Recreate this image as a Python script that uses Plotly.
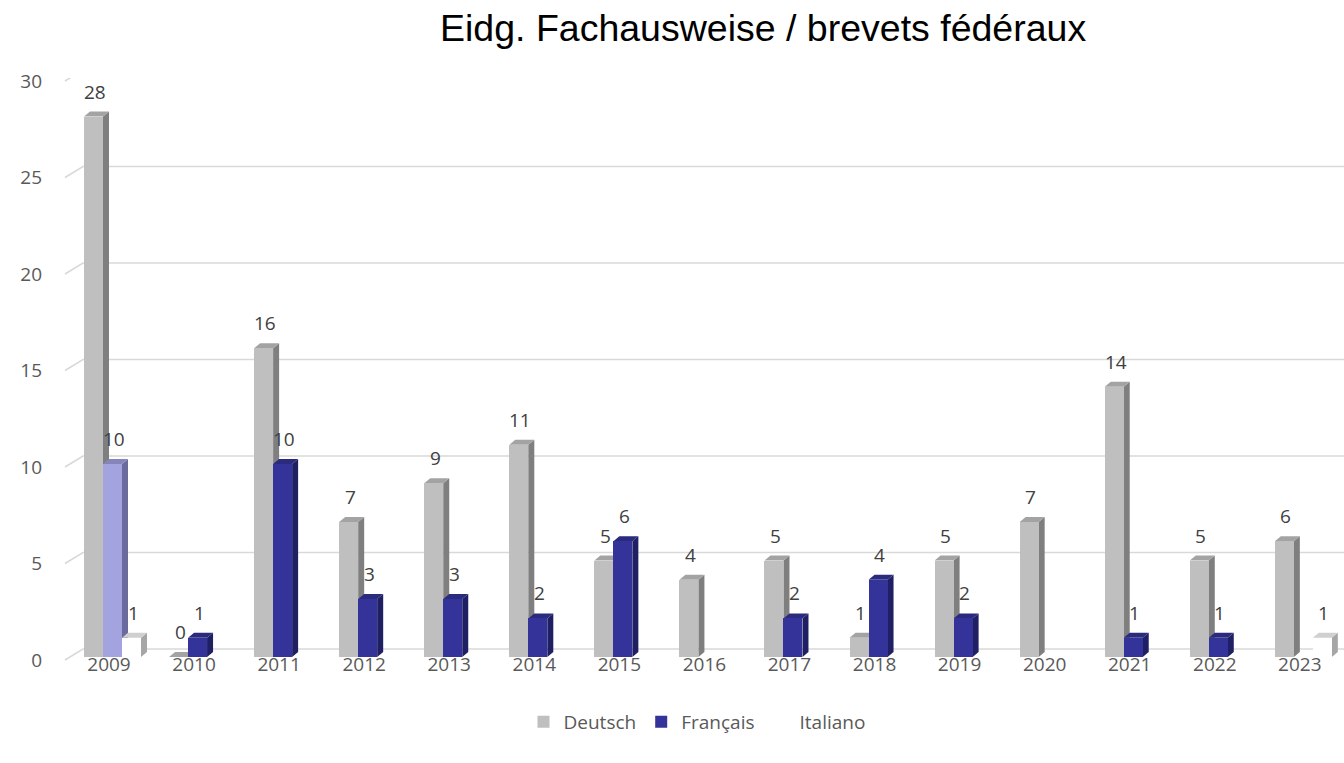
import plotly.graph_objects as go

# ---------------- data ----------------
years = [2009, 2010, 2011, 2012, 2013, 2014, 2015, 2016, 2017, 2018, 2019, 2020, 2021, 2022, 2023]
deutsch = [28, 0, 16, 7, 9, 11, 5, 4, 5, 1, 5, 7, 14, 5, 6]
francais = [10, 1, 10, 3, 3, 2, 6, None, 2, 4, 2, None, 1, 1, None]
italiano = [1, None, None, None, None, None, None, None, None, None, None, None, None, None, 1]
y_ticks = [0, 5, 10, 15, 20, 25, 30]
title_text = "Eidg. Fachausweise / brevets fédéraux"

# ---------------- geometry (pixel based styling) ----------------
W, H = 1344, 763
P = 19.3                        # pixels per value unit (front face)
Y0PIX = 657                     # pixel row of value 0 (front)
MT = 78
YTOP = (Y0PIX - MT) / P         # = 30
BOT_EXTRA = 4                   # px of plot below value 0
MB = H - (Y0PIX + BOT_EXTRA)
PH = H - MT - MB
ML, MR = 63, 0
PW = W - ML - MR
PXC = 85.06                     # pixels per category
X0 = 109                        # pixel of first category centre
UX = 1.0 / PXC
UY = 1.0 / P
xr = [(ML - X0) * UX, (W - MR - X0) * UX]
yr = [-BOT_EXTRA * UY, YTOP]

BW = 19 * UX                    # bar width
DX, DY = 6 * UX, 5 * UY         # 3D depth offsets
FONT = "Open Sans"
FS = 19

series = [
    dict(name="Deutsch", vals=deutsch, off=-25, front="#BFBFBF", side="#7F7F7F", top="#A3A3A3", special={}),
    dict(name="Français", vals=francais, off=-6, front="#333399", side="#1F1F63", top="#2A2A7E",
         special={0: dict(front="#A3A3DF", side="#6B6B9E", top="#8585BC")}),
    dict(name="Italiano", vals=italiano, off=13, front="#FFFFFF", side="#A6A6A6", top="#D0D0D0", special={}),
]

shapes = []
# back wall gridlines with slanted floor ticks
for v in y_ticks:
    xa, ya = (65 - X0) * UX, v - 3 * UY
    xb, yb = (83 - X0) * UX, v + 8 * UY
    xc = (W - X0) * UX
    shapes.append(dict(type="path", xref="x", yref="y", layer="below",
                       path=f"M {xa},{ya} L {xb},{yb} L {xc},{yb}",
                       line=dict(color="#D9D9D9", width=1.6)))

fig = go.Figure()
annotations = []
for s in series:
    groups = {"main": ([], [], s["front"])}
    for i, v in enumerate(s["vals"]):
        if v is None:
            continue
        c = s["special"].get(i, dict(front=s["front"], side=s["side"], top=s["top"]))
        left = i + s["off"] * UX
        right = left + BW
        key = "main" if i not in s["special"] else f"sp{i}"
        if key not in groups:
            groups[key] = ([], [], c["front"])
        groups[key][0].append(left + BW / 2)
        groups[key][1].append(v)
        # side face
        shapes.append(dict(type="path", xref="x", yref="y", layer="below",
                           path=f"M {right},0 L {right+DX},{DY} L {right+DX},{v+DY} L {right},{v} Z",
                           fillcolor=c["side"], line=dict(width=0)))
        # top face
        shapes.append(dict(type="path", xref="x", yref="y", layer="below",
                           path=f"M {left},{v} L {left+DX},{v+DY} L {right+DX},{v+DY} L {right},{v} Z",
                           fillcolor=c["top"], line=dict(width=0)))
        annotations.append(dict(x=left + BW / 2 + 1.5 * UX, y=v, xref="x", yref="y",
                                text=str(v), showarrow=False, yanchor="middle", yshift=25,
                                font=dict(family=FONT, size=FS, color="#404040")))
    for key, (xs, ys, col) in groups.items():
        fig.add_trace(go.Bar(x=xs, y=ys, width=BW, name=s["name"], showlegend=(key == "main"),
                             legendgroup=s["name"],
                             marker=dict(color=col, line=dict(width=0)),
                             hovertemplate=s["name"] + ": %{y}<extra></extra>"))

annotations.append(dict(text=title_text, xref="paper", yref="paper",
                        x=(763 - ML) / PW, y=1 + (MT - 28) / PH, xanchor="center", yanchor="middle",
                        showarrow=False, font=dict(family="Liberation Sans, Arial", size=37.5, color="#000000")))

fig.update_layout(
    width=W, height=H,
    margin=dict(l=ML, r=MR, t=MT, b=MB, autoexpand=False),
    paper_bgcolor="white", plot_bgcolor="white",
    barmode="overlay", bargap=0,
    showlegend=True,
    legend=dict(orientation="h", x=(697 - ML) / PW, xanchor="center", y=(Y0PIX + BOT_EXTRA - 722) / PH,
                yanchor="middle", font=dict(family=FONT, size=FS, color="#595959")),
    xaxis=dict(range=xr, tickmode="array", tickvals=list(range(len(years))), automargin=False,
               ticktext=[str(y) for y in years], showgrid=False, zeroline=False, showline=False,
               ticks="", ticklabelstandoff=-10, tickfont=dict(family=FONT, size=FS, color="#595959")),
    yaxis=dict(range=yr, tickmode="array", tickvals=[v - 3 * UY for v in y_ticks], automargin=False,
               ticktext=[str(v) for v in y_ticks], showgrid=False, zeroline=False, showline=False,
               ticks="", ticklabelstandoff=20,
               tickfont=dict(family=FONT, size=FS, color="#595959")),
    shapes=shapes, annotations=annotations,
)

fig.write_html("out.html", config={"displayModeBar": False},
               post_script="document.body.style.margin='0';document.body.style.overflow='hidden';")
